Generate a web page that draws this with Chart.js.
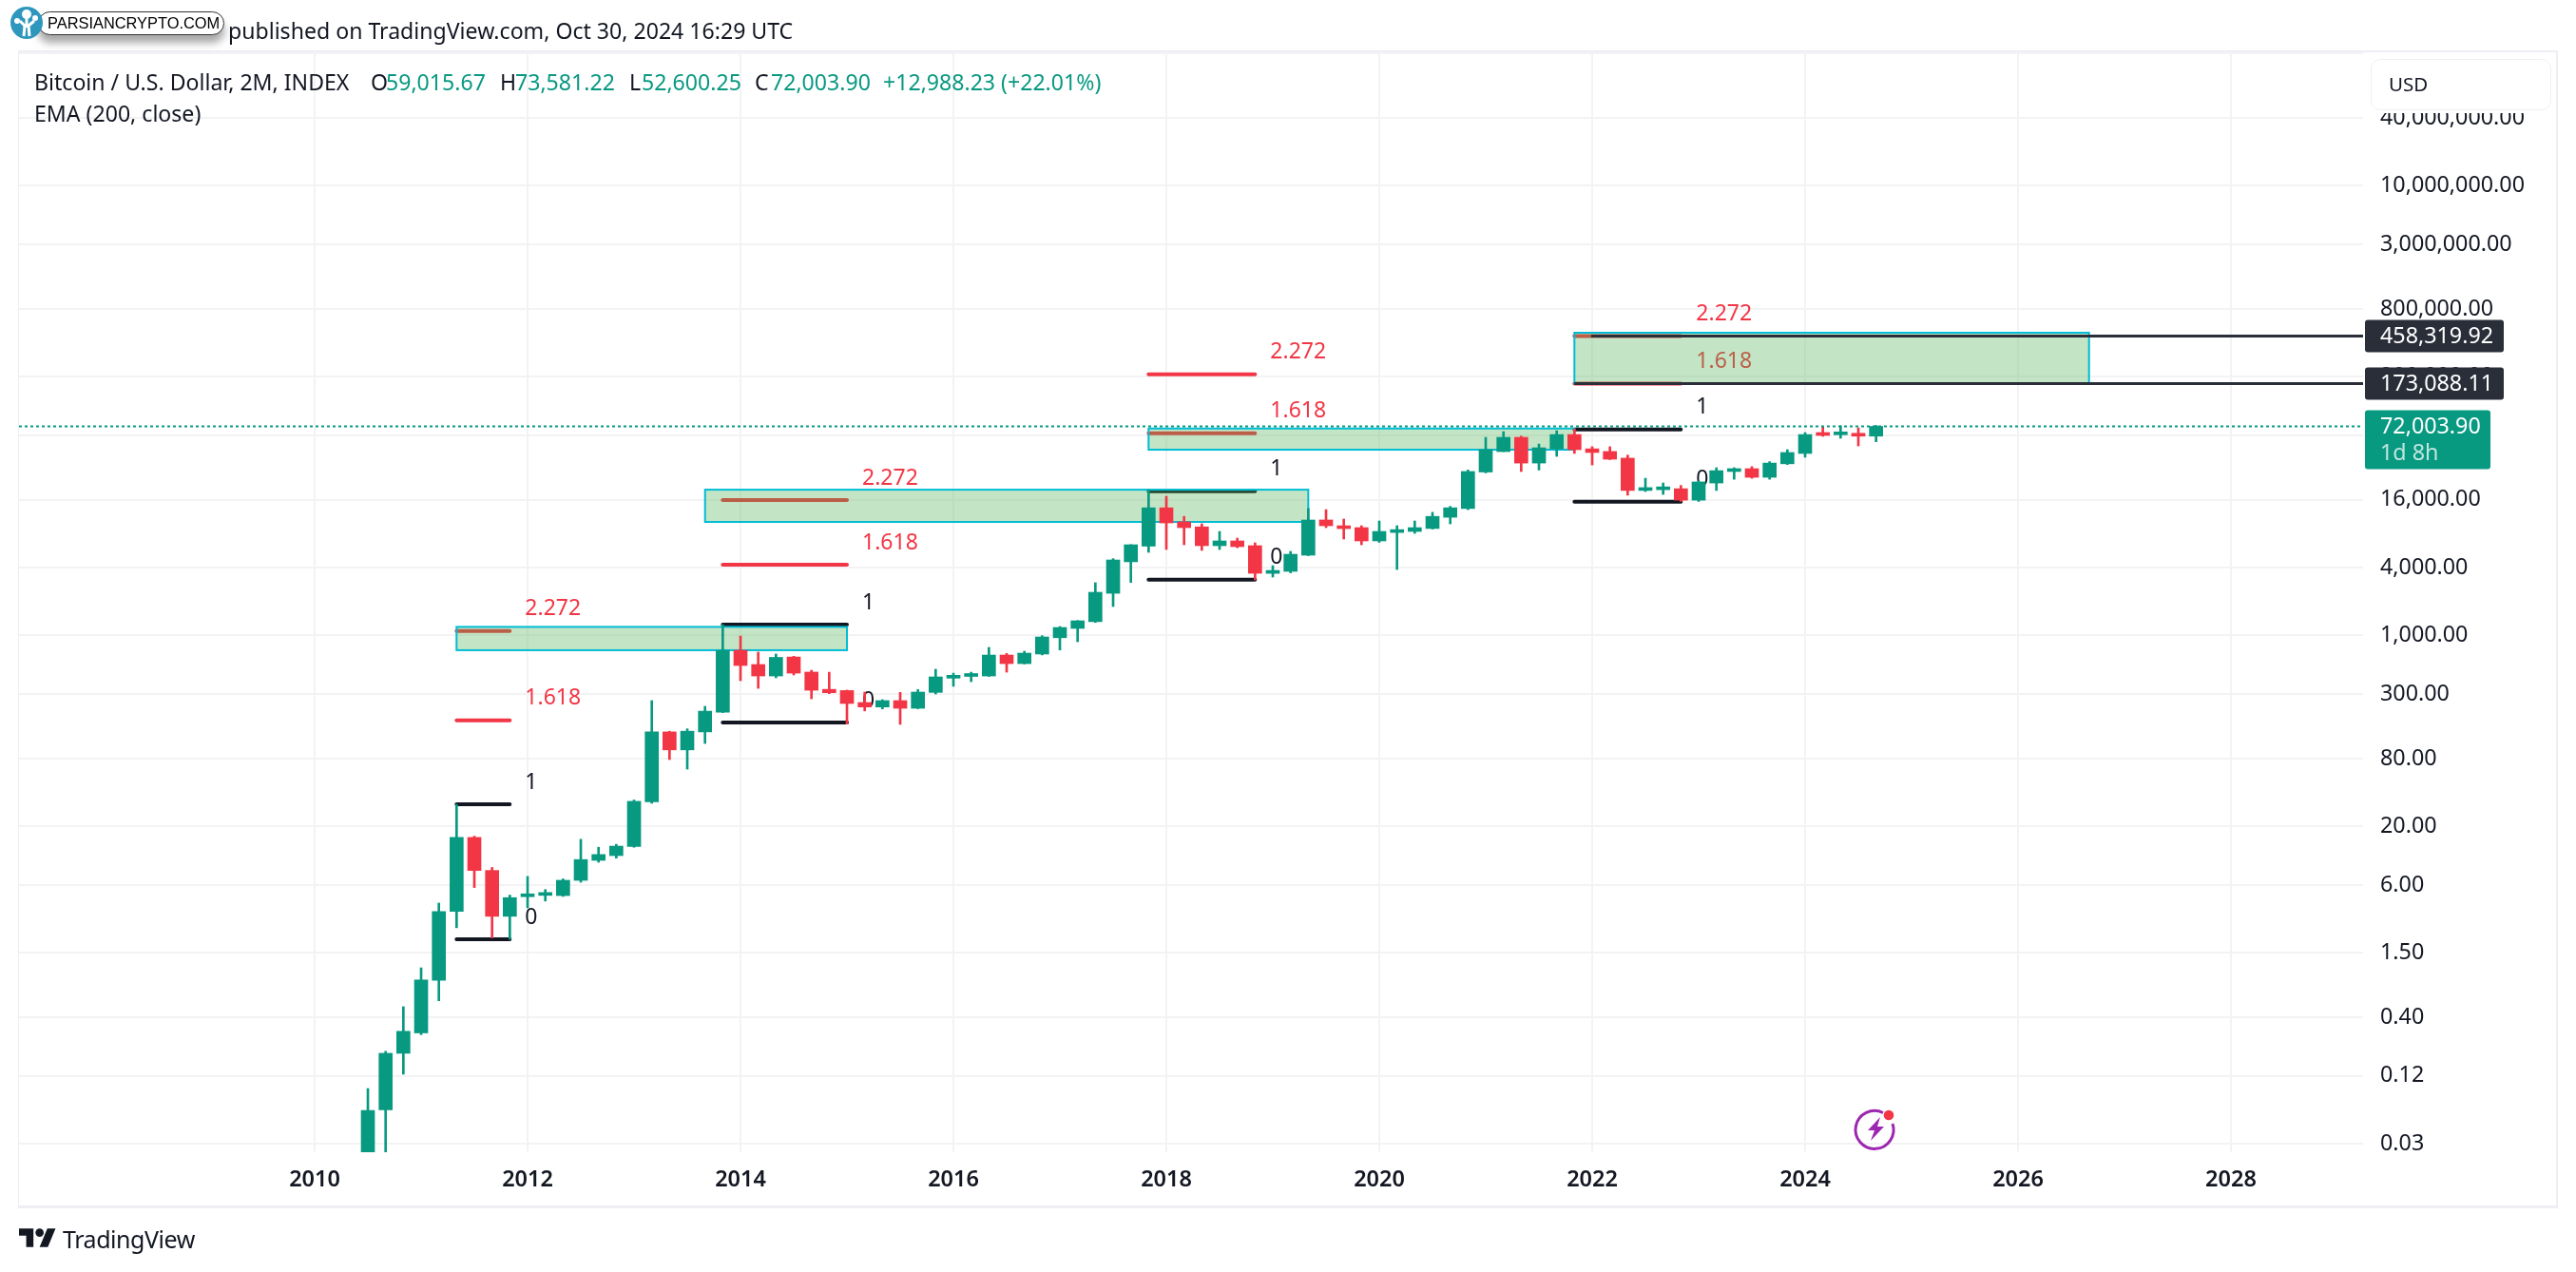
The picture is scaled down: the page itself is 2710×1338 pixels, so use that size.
<!DOCTYPE html>
<html>
<head>
<meta charset="utf-8">
<script src="https://cdn.jsdelivr.net/npm/chart.js@4"></script>
<style>
  html, body { margin: 0; background: #fff; }
  body { width: 2710px; height: 1338px; position: relative; overflow: hidden; font-family: "Noto Sans", sans-serif; color: #131722; }
  .t { position: absolute; font-size: 23.1px; line-height: 30px; white-space: pre; }
  .up { color: #089981; }
  #frame { position: absolute; left: 19px; top: 53px; width: 2669px; height: 1213px; border: 1px solid #eeeef3; border-width: 2px 2px 3px 1px; }
  canvas { position: absolute; left: 0; top: 0; }
  #usd { position: absolute; left: 2494px; top: 62px; height: 52px; border: 1.5px solid #f0f0f5; border-radius: 10px; background: #fff; box-shadow: 0 0 0 3px #fff; line-height: 50px; padding-left: 18px; box-sizing: content-box; width: 170px; font-size: 20.5px; }
  #badge { position: absolute; left: 40px; top: 12px; width: 196px; height: 25px; background: #fff; border: 1px solid #333; border-radius: 13px; box-shadow: 0 8px 8px rgba(0,0,0,.35); box-sizing: border-box; font: 500 16.4px/23px "Liberation Sans", sans-serif; color: #000; padding-left: 9px; white-space: pre; }
</style>
</head>
<body>
<div id="frame"></div>
<canvas id="chart" width="2710" height="1338"></canvas>

<div class="t" style="left:240px;top:17px">published on TradingView.com, Oct 30, 2024 16:29 UTC</div>
<div id="badge">PARSIANCRYPTO.COM</div>
<svg style="position:absolute;left:10px;top:5px" width="38" height="38" viewBox="0 0 38 38">
  <circle cx="18" cy="19" r="17" fill="#2f97bd"/>
  <path d="M15 33 L16 22 L11 17 M21 33 L20 22 L26 17 M18 24 L18 13" stroke="#fff" stroke-width="3" fill="none"/>
  <circle cx="18" cy="10" r="5" fill="#fff"/><circle cx="8" cy="17" r="3" fill="#fff"/><circle cx="27" cy="14" r="3" fill="#fff"/>
</svg>

<div class="t" style="left:36px;top:71px">Bitcoin / U.S. Dollar, 2M, INDEX</div>
<div class="t" style="left:390px;top:71px">O</div><div class="t up" style="left:406px;top:71px">59,015.67</div>
<div class="t" style="left:526px;top:71px">H</div><div class="t up" style="left:542px;top:71px">73,581.22</div>
<div class="t" style="left:662px;top:71px">L</div><div class="t up" style="left:675px;top:71px">52,600.25</div>
<div class="t" style="left:794px;top:71px">C</div><div class="t up" style="left:811px;top:71px">72,003.90</div>
<div class="t up" style="left:929px;top:71px">+12,988.23 (+22.01%)</div>
<div class="t" style="left:36px;top:104px">EMA (200, close)</div>

<div id="usd">USD</div>

<svg style="position:absolute;left:1945px;top:1160px" width="56" height="56" viewBox="0 0 56 56">
  <path d="M36 10.5 A 20 20 0 1 0 46 22" fill="none" stroke="#9c27b0" stroke-width="3"/>
  <path d="M33 15 L20 29 H27 L23 40 L37 25 H30 Z" fill="#9c27b0"/>
  <circle cx="42" cy="13" r="5.3" fill="#f23645"/>
</svg>

<svg style="position:absolute;left:20px;top:1292px" width="39" height="20" viewBox="0 4 36 18">
  <path d="M14 22H7V11H0V4h14v18zM28 22h-8l7.5-18h8L28 22z" fill="#131722"/><circle cx="20" cy="8" r="4" fill="#131722"/>
</svg>
<div class="t" style="left:66px;top:1288px;font-size:25px;letter-spacing:-0.45px">TradingView</div>

<script>
// 2 month candles, one entry per bar
const candleDates = [
  "2010-07","2010-09","2010-11","2011-01","2011-03","2011-05","2011-07","2011-09","2011-11",
  "2012-01","2012-03","2012-05","2012-07","2012-09","2012-11",
  "2013-01","2013-03","2013-05","2013-07","2013-09","2013-11",
  "2014-01","2014-03","2014-05","2014-07","2014-09","2014-11",
  "2015-01","2015-03","2015-05","2015-07","2015-09","2015-11",
  "2016-01","2016-03","2016-05","2016-07","2016-09","2016-11",
  "2017-01","2017-03","2017-05","2017-07","2017-09","2017-11",
  "2018-01","2018-03","2018-05","2018-07","2018-09","2018-11",
  "2019-01","2019-03","2019-05","2019-07","2019-09","2019-11",
  "2020-01","2020-03","2020-05","2020-07","2020-09","2020-11",
  "2021-01","2021-03","2021-05","2021-07","2021-09","2021-11",
  "2022-01","2022-03","2022-05","2022-07","2022-09","2022-11",
  "2023-01","2023-03","2023-05","2023-07","2023-09","2023-11",
  "2024-01","2024-03","2024-05","2024-07","2024-09"
];
const opens = [
  0.01,0.06,0.191,0.29,0.85,3.5,15.9,8.08,3.16,
  4.72,4.85,4.83,6.6,9.94,10.95,
  13.2,33,138,95.5,138,207,
  735,549,434,640,470,330,
  322,252,230,262,224,310,
  415,430,434,666,559,680,
  950,1150,1320,2360,4500,6200,
  13600,10200,9200,6260,6900,6260,
  3550,3700,5150,10600,9400,9060,
  6900,8200,8380,8900,11200,13400,
  28300,43000,57600,34000,45400,61000,
  45500,43100,37600,19400,19700,20100,
  15900,22600,28600,30300,25400,33500,
  41400,62000,60700,62300,59015.67
];
const highs = [
  0.0928,0.199,0.496,1.10,4.14,31.3,16.3,8.59,4.88,
  7.15,5.47,6.8,15.3,13.0,13.8,
  34.2,262,140,147,233,1243,
  984,707,680,650,488,469,
  325,312,267,310,329,498,
  460,469,779,690,721,990,
  1195,1350,2930,4800,6400,19700,
  17200,11400,9790,8380,7310,6640,
  4157,5570,13400,13100,10800,9420,
  10380,9420,10380,12400,14000,29500,
  57600,64700,59000,50200,66000,68600,
  47500,47500,40000,24900,22600,21500,
  23500,30900,30900,31600,35000,44700,
  63500,71400,73000,70000,73581.22
];
const lows = [
  0.01,0.01,0.1245,0.28,0.56,2.5,5.70,2.03,1.97,
  3.76,4.32,4.75,6.35,9.56,10.4,
  13,32,78.3,64.4,109,205,
  394,337,418,443,272,302,
  162,212,221,161,222,300,
  351,386,430,469,555,668,
  739,875,1300,1800,2950,5460,
  5790,6380,5680,5790,6000,3100,
  3290,3590,5100,9060,7170,6380,
  6700,3845,8060,8800,9790,13100,
  27800,43000,28600,29500,39000,41400,
  32700,36500,17600,19000,17900,15500,
  15500,19400,24400,24900,24400,33000,
  38300,58800,56500,48300,52600.25
];
const closes = [
  0.0593,0.191,0.2997,0.858,3.48,15.9,8.08,3.16,4.63,
  4.88,4.97,6.61,10.1,11.2,13.3,
  33.3,138,95.5,140,211,735,
  538,434,635,460,324,308,
  247,230,262,224,312,426,
  437,452,666,559,693,965,
  1172,1344,2410,4672,6380,13600,
  9980,9060,6260,6900,6140,3556,
  3770,5250,10590,9420,8880,6900,
  8380,8540,9060,11400,13600,28600,
  44700,57600,34000,46500,61000,44700,
  42200,36800,19400,20100,20500,15900,
  23100,29100,30300,25400,34000,42200,
  61000,59900,63500,59000,72003.90
];

const yearTicks = [2010,2012,2014,2016,2018,2020,2022,2024,2026,2028];
const priceTicks = [0.03,0.12,0.4,1.5,6,20,80,300,1000,4000,16000,60000,200000,800000,3000000,10000000,40000000,150000000];

// fib drawings, one column per drawing
const fibStart = [2011.333,2013.833,2017.833,2021.833];
const fibEnd   = [2011.833,2015.0,2018.833,2022.833];
const fib0     = [1.97,167,3122,15400];
const fib1     = [31.3,1243,19100,67700];
const fib1618  = [175,4238,62600,173500];
const fib2272  = [1089,15900,209500,458000];

// green target zones
const zoneStart = [2011.333,2013.667,2017.833,2021.833];
const zoneEnd   = [2015.0,2019.333,2021.833,2026.667];
const zoneTop   = [1186,19700,69000,490700];
const zoneBot   = [736,10180,44700,173088];

const lastPrice = 72003.90;
const lineLevels = [458319.92,173088.11];
const lineStarts = [2021.99,2021.833];

const UP = '#089981', DOWN = '#F23645', INK = '#131722', TAG = '#2a2e39';
const fmt = v => v.toLocaleString('en-US', {minimumFractionDigits: 2, maximumFractionDigits: 2});
const xMin = 2007.223, xMax = 2029.241;

const candleX = candleDates.map(d => {
  const [y, m] = d.split('-').map(Number);
  return y + (m - 1) / 12;
});
const candleColors = closes.map((c, i) => c >= opens[i] ? UP : DOWN);

function fibLine(i, levels, color) {
  return {
    type: 'line', order: 10, borderColor: color, borderWidth: 4, borderCapStyle: 'round',
    pointRadius: 0, data: [{x: fibStart[i], y: levels[i]}, {x: fibEnd[i], y: levels[i]}]
  };
}
const fibSets = [];
fibStart.forEach((s, i) => {
  fibSets.push(fibLine(i, fib0, INK), fibLine(i, fib1, INK), fibLine(i, fib1618, DOWN), fibLine(i, fib2272, DOWN));
});

const priceLines = lineLevels.map((lvl, i) => ({
  type: 'line', order: 1, borderColor: TAG, borderWidth: 3, pointRadius: 0,
  data: [{x: lineStarts[i], y: lvl}, {x: xMax, y: lvl}]
}));

// text of the fib levels sits below the zones and candles
const fibTextPlugin = {
  id: 'fibText',
  beforeDatasetsDraw(chart) {
    const {ctx, scales: {x, y}} = chart;
    ctx.save();
    ctx.font = '23px "Noto Sans"';
    ctx.textBaseline = 'middle';
    fibEnd.forEach((e, i) => {
      [[fib0, '0', INK], [fib1, '1', INK], [fib1618, '1.618', DOWN], [fib2272, '2.272', DOWN]].forEach(([lv, txt, col]) => {
        ctx.fillStyle = col;
        ctx.fillText(txt, x.getPixelForValue(e) + 16, y.getPixelForValue(lv[i]) - 23);
      });
    });
    ctx.restore();
  },
  // zones go over the fib lines but under the candles
  beforeDatasetDraw(chart, args) {
    if (chart.data.datasets[args.index].label !== 'wicks') return;
    const {ctx, scales: {x, y}} = chart;
    ctx.save();
    zoneStart.forEach((s, i) => {
      const l = x.getPixelForValue(s), r = x.getPixelForValue(zoneEnd[i]);
      const t = y.getPixelForValue(zoneTop[i]), b = y.getPixelForValue(zoneBot[i]);
      ctx.fillStyle = 'rgba(76,175,80,0.33)';
      ctx.fillRect(l, t, r - l, b - t);
      ctx.strokeStyle = '#00bcd4';
      ctx.lineWidth = 2;
      ctx.strokeRect(l, t, r - l, b - t);
    });
    ctx.restore();
  }
};

// price tags on the right axis
const tagPlugin = {
  id: 'tags',
  afterDraw(chart) {
    const {ctx, scales: {y}} = chart;
    ctx.save();
    ctx.textBaseline = 'middle';
    ctx.font = '23.3px "Noto Sans"';
    lineLevels.forEach(lvl => {
      const py = y.getPixelForValue(lvl);
      ctx.fillStyle = TAG;
      ctx.beginPath();
      ctx.roundRect(2488, py - 17, 146, 34, 3);
      ctx.fill();
      ctx.fillStyle = '#fff';
      ctx.fillText(fmt(lvl), 2504, py + 1);
    });
    const py = y.getPixelForValue(lastPrice);
    ctx.fillStyle = UP;
    ctx.beginPath();
    ctx.roundRect(2488, py - 17, 132, 62, 3);
    ctx.fill();
    ctx.fillStyle = '#fff';
    ctx.fillText(fmt(lastPrice), 2504, py + 1);
    ctx.fillStyle = 'rgba(255,255,255,0.75)';
    ctx.fillText('1d 8h', 2504, py + 29);
    ctx.restore();
  }
};

new Chart(document.getElementById('chart').getContext('2d'), {
  type: 'bar',
  data: {
    datasets: [
      ...fibSets,
      {
        label: 'wicks', order: 6, grouped: false, barThickness: 2, borderWidth: 0,
        backgroundColor: candleColors,
        data: candleX.map((x, i) => ({x, y: [lows[i], highs[i]]}))
      },
      {
        label: 'bodies', order: 5, grouped: false, barThickness: 14, borderWidth: 0, minBarLength: 3,
        backgroundColor: candleColors,
        data: candleX.map((x, i) => ({x, y: [Math.min(opens[i], closes[i]), Math.max(opens[i], closes[i])]}))
      },
      ...priceLines,
      {
        type: 'line', order: 1, borderColor: UP, borderWidth: 2, borderDash: [3, 3], pointRadius: 0,
        data: [{x: xMin, y: lastPrice}, {x: xMax, y: lastPrice}]
      }
    ]
  },
  options: {
    responsive: false,
    animation: false,
    devicePixelRatio: 1,
    layout: {padding: {left: 20, top: 55, right: 0, bottom: 0}},
    plugins: {legend: {display: false}, tooltip: {enabled: false}},
    scales: {
      x: {
        type: 'linear', min: xMin, max: xMax, bounds: 'data', offset: false,
        grid: {color: '#f3f3f5', lineWidth: 2, offset: false, drawTicks: false},
        border: {display: false},
        afterBuildTicks: s => { s.ticks = yearTicks.map(value => ({value})); },
        afterFit: s => { s.height = 126; },
        ticks: {
          color: INK, padding: 15, autoSkip: false, maxRotation: 0,
          font: {family: '"Noto Sans"', size: 23.5, weight: '600'},
          callback: v => String(v)
        }
      },
      y: {
        type: 'logarithmic', position: 'right', min: 0.02518, max: 153300000, bounds: 'data',
        grid: {color: '#f3f3f5', lineWidth: 2, drawTicks: false},
        border: {display: false},
        afterBuildTicks: s => { s.ticks = priceTicks.map(value => ({value})); },
        afterFit: s => { s.width = 224; },
        ticks: {
          color: INK, padding: 18, autoSkip: false, crossAlign: 'near',
          font: {family: '"Noto Sans"', size: 23.3},
          // the top gridline's label is hidden behind the currency button in the original
          callback: v => v > 100000000 ? '' : fmt(v)
        }
      }
    }
  },
  plugins: [fibTextPlugin, tagPlugin]
});
</script>
</body>
</html>
